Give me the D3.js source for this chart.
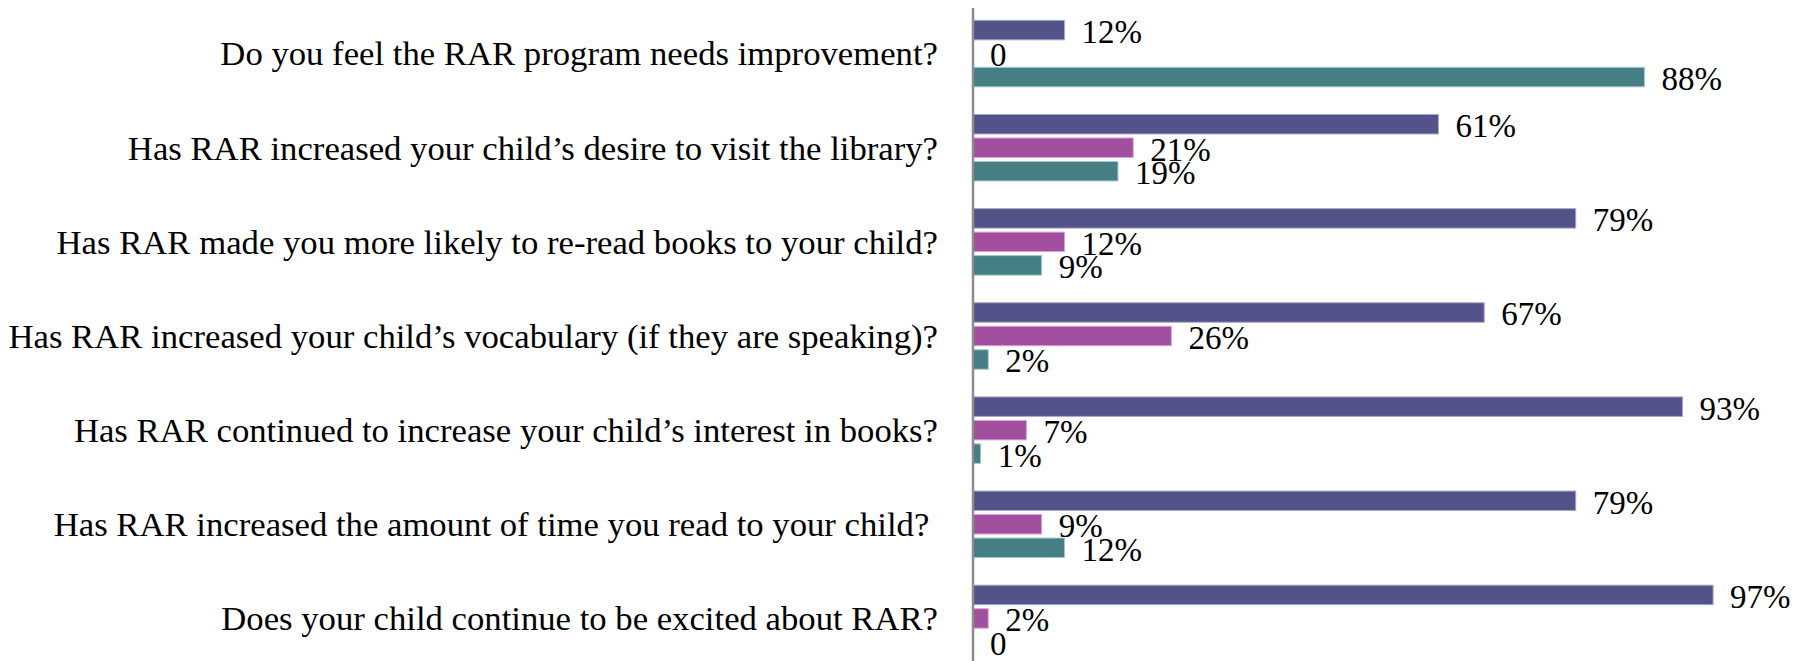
<!DOCTYPE html>
<html>
<head>
<meta charset="utf-8">
<script src="https://cdn.jsdelivr.net/npm/d3@7"></script>
<style>
  html, body { margin: 0; padding: 0; background: #fff; }
  svg { display: block; }
  svg text { font-family: "Liberation Serif", "Times New Roman", "DejaVu Serif", serif; fill: #000; }
</style>
</head>
<body>
<div id="chart"></div>
<script>
// questions, top to bottom
const questions = [
  "Do you feel the RAR program needs improvement?",
  "Has RAR increased your child’s desire to visit the library?",
  "Has RAR made you more likely to re-read books to your child?",
  "Has RAR increased your child’s vocabulary (if they are speaking)?",
  "Has RAR continued to increase your child’s interest in books?",
  "Has RAR increased the amount of time you read to your child? ",
  "Does your child continue to be excited about RAR?"
];

// three series per question (percent)
const seriesNames = ["s1", "s2", "s3"];
const s1Values = [12, 61, 79, 67, 93, 79, 97];
const s2Values = [0, 21, 12, 26, 7, 9, 2];
const s3Values = [88, 19, 9, 2, 1, 12, 0];
const seriesColors = ["#53538a", "#a24fa0", "#457f84"];
const seriesStroke = ["#a9a9cc", "#d9a8d6", "#a6c9cb"];

const W = 1802, H = 661;
const axisX = 973;

const rows = questions.map((q, i) => ({
  q,
  vals: [s1Values[i], s2Values[i], s3Values[i]]
}));

const svg = d3.select("#chart").append("svg")
  .attr("width", W).attr("height", H);

const x = d3.scaleLinear().domain([0, 100]).range([axisX, axisX + 763]);

const y0 = d3.scaleBand()
  .domain(questions)
  .range([6.5, 665.5])
  .padding(0);

const gap = y0.bandwidth() - 3 * 23.5;
const y1 = d3.scaleBand()
  .domain(seriesNames)
  .range([gap / 2, y0.bandwidth() - gap / 2])
  .paddingInner(0.17)
  .paddingOuter(0.085);

const groups = svg.append("g").selectAll("g")
  .data(rows)
  .join("g")
  .attr("transform", d => `translate(0,${y0(d.q)})`);

groups.selectAll("rect")
  .data(d => d.vals.map((v, j) => ({ v, j })))
  .join("rect")
  .attr("x", x(0))
  .attr("y", d => y1(seriesNames[d.j]))
  .attr("width", d => x(d.v) - x(0))
  .attr("height", y1.bandwidth())
  .attr("fill", d => seriesColors[d.j])
  .attr("stroke", d => d.v > 0 ? seriesStroke[d.j] : "none")
  .attr("stroke-width", 1);

groups.selectAll("text.val")
  .data(d => d.vals.map((v, j) => ({ v, j })))
  .join("text")
  .attr("class", "val")
  .attr("x", d => x(d.v) + 17)
  .attr("y", d => y1(seriesNames[d.j]) + y1.bandwidth() / 2 + 1)
  .attr("dy", "0.36em")
  .attr("font-size", 33)
  .text(d => d.v === 0 ? "0" : d.v + "%");

// category labels
svg.append("g").selectAll("text")
  .data(questions)
  .join("text")
  .attr("x", 938)
  .attr("y", d => y0(d) + y0.bandwidth() / 2)
  .attr("dy", "0.34em")
  .attr("text-anchor", "end")
  .attr("font-size", 34.7)
  .attr("xml:space", "preserve")
  .text(d => d);

// vertical axis line
svg.append("line")
  .attr("x1", axisX).attr("x2", axisX)
  .attr("y1", 8).attr("y2", H)
  .attr("stroke", "#8c8c8c")
  .attr("stroke-width", 2.5);
</script>
</body>
</html>
